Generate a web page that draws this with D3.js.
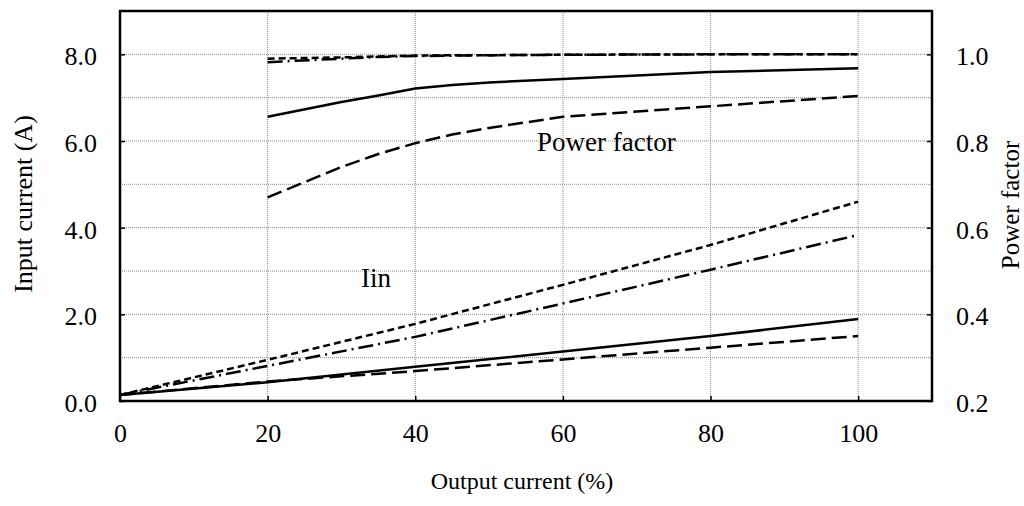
<!DOCTYPE html>
<html>
<head>
<meta charset="utf-8">
<script src="https://cdn.jsdelivr.net/npm/d3@7"></script>
<style>
  body { margin: 0; background: #fff; }
  svg { display: block; font-family: "Liberation Serif", "Times New Roman", serif; }
</style>
</head>
<body>
<svg id="chart" width="1024" height="506"></svg>
<script>
// output current (%)
const pfLoad = [20, 30, 35, 40, 45, 50, 60, 80, 100];
const iinLoad = [0, 20, 40, 60, 80, 100];

// power factor curves
const pfShortDash = [0.99, 0.993, 0.995, 0.997, 0.998, 0.998, 0.999, 1.0, 1.0];
const pfDashDot = [0.982, 0.99, 0.994, 0.996, 0.997, 0.998, 0.999, 1.0, 1.0];
const pfSolid = [0.856, 0.89, 0.905, 0.921, 0.929, 0.935, 0.943, 0.959, 0.968];
const pfLongDash = [0.67, 0.74, 0.77, 0.795, 0.815, 0.83, 0.856, 0.88, 0.904];

// input current curves (A)
const iinShortDash = [0.14, 0.95, 1.78, 2.68, 3.6, 4.6];
const iinDashDot = [0.14, 0.81, 1.48, 2.25, 3.03, 3.83];
const iinSolid = [0.14, 0.43, 0.79, 1.14, 1.5, 1.89];
const iinLongDash = [0.14, 0.45, 0.69, 0.96, 1.23, 1.5];

const xTicks = [0, 20, 40, 60, 80, 100];
const yLeftTicks = [0, 2, 4, 6, 8];
const yRightTicks = [0.2, 0.4, 0.6, 0.8, 1.0];

const dash = {
  solid: null,
  longDash: "15,6",
  shortDash: "7,4",
  dashDot: "15,5,2,5",
};

const svg = d3.select("#chart");
const plot = { left: 120, right: 932, top: 11, bottom: 401 };

const x = d3.scaleLinear().domain([0, 110]).range([plot.left, plot.right]);
const yL = d3.scaleLinear().domain([0, 9]).range([plot.bottom, plot.top]);
const yR = d3.scaleLinear().domain([0.2, 1.1]).range([plot.bottom, plot.top]);

// grid
const grid = svg.append("g")
  .attr("stroke", "#888")
  .attr("stroke-width", 1)
  .attr("stroke-dasharray", "1,1");

grid.selectAll("line.h")
  .data(d3.range(1, 9))
  .join("line")
  .attr("class", "h")
  .attr("x1", plot.left).attr("x2", plot.right)
  .attr("y1", d => yL(d)).attr("y2", d => yL(d));

grid.selectAll("line.v")
  .data(xTicks.slice(1))
  .join("line")
  .attr("class", "v")
  .attr("y1", plot.top).attr("y2", plot.bottom)
  .attr("x1", d => x(d)).attr("x2", d => x(d));

// axes
const fontSize = 26;

const xAxis = svg.append("g")
  .attr("transform", `translate(0,${plot.bottom})`)
  .call(d3.axisBottom(x).tickValues(xTicks).tickSizeInner(-5).tickSizeOuter(0).tickPadding(23));

const leftAxis = svg.append("g")
  .attr("transform", `translate(${plot.left},0)`)
  .call(d3.axisLeft(yL).tickValues(yLeftTicks).tickFormat(d3.format(".1f"))
    .tickSizeInner(-5).tickSizeOuter(0).tickPadding(23));

const rightAxis = svg.append("g")
  .attr("transform", `translate(${plot.right},0)`)
  .call(d3.axisRight(yR).tickValues(yRightTicks).tickFormat(d3.format(".1f"))
    .tickSizeInner(-5).tickSizeOuter(0).tickPadding(24));

[xAxis, leftAxis, rightAxis].forEach(function (g) {
  g.select(".domain").remove();
  g.selectAll(".tick line").attr("stroke", "#000").attr("stroke-width", 1.5);
  g.selectAll(".tick text")
    .attr("fill", "#000")
    .style("font-family", "Liberation Serif")
    .style("font-size", fontSize + "px");
});
leftAxis.selectAll(".tick text").attr("dy", "0.4em");
rightAxis.selectAll(".tick text").attr("dy", "0.4em");

// frame
svg.append("rect")
  .attr("x", plot.left).attr("y", plot.top)
  .attr("width", plot.right - plot.left).attr("height", plot.bottom - plot.top)
  .attr("fill", "none")
  .attr("stroke", "#000")
  .attr("stroke-width", 2.5);

// curves
const pfLine = d3.line().x((d, i) => x(pfLoad[i])).y(d => yR(d));
const iinLine = d3.line().x((d, i) => x(iinLoad[i])).y(d => yL(d));

const curves = [
  { data: pfShortDash, line: pfLine, style: dash.shortDash },
  { data: pfDashDot, line: pfLine, style: dash.dashDot },
  { data: pfSolid, line: pfLine, style: dash.solid },
  { data: pfLongDash, line: pfLine, style: dash.longDash },
  { data: iinShortDash, line: iinLine, style: dash.shortDash },
  { data: iinDashDot, line: iinLine, style: dash.dashDot },
  { data: iinSolid, line: iinLine, style: dash.solid },
  { data: iinLongDash, line: iinLine, style: dash.longDash },
];

svg.append("g")
  .selectAll("path")
  .data(curves)
  .join("path")
  .attr("d", d => d.line(d.data))
  .attr("fill", "none")
  .attr("stroke", "#000")
  .attr("stroke-width", 2.5)
  .attr("stroke-dasharray", d => d.style);

// labels
svg.append("text")
  .attr("x", 537).attr("y", 151)
  .style("font-size", "27px")
  .text("Power factor");

svg.append("text")
  .attr("x", 361).attr("y", 287)
  .style("font-size", "27px")
  .text("Iin");

svg.append("text")
  .attr("x", 522).attr("y", 489)
  .attr("text-anchor", "middle")
  .style("font-size", "24px")
  .text("Output current (%)");

svg.append("text")
  .attr("transform", "translate(32,204) rotate(-90)")
  .attr("text-anchor", "middle")
  .style("font-size", "26px")
  .text("Input current (A)");

svg.append("text")
  .attr("transform", "translate(1019,205) rotate(-90)")
  .attr("text-anchor", "middle")
  .style("font-size", "25px")
  .text("Power factor");
</script>
</body>
</html>
